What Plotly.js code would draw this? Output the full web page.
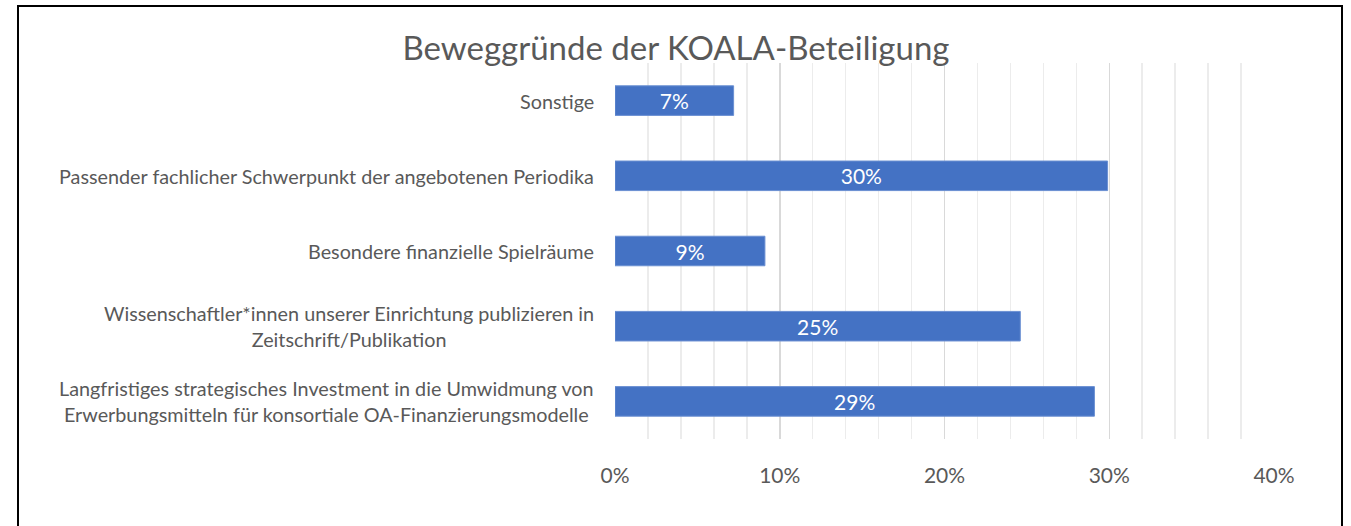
<!DOCTYPE html>
<html>
<head>
<meta charset="utf-8">
<script src="https://cdn.plot.ly/plotly-3.0.1.min.js"></script>
<style>
  html, body { margin: 0; padding: 0; overflow: hidden; background: #fff; }
  #chart { width: 1351px; height: 526px; }
  #frame { position: absolute; left: 17px; top: 5px; width: 1326px; height: 600px;
           border: 2px solid #000; pointer-events: none; box-sizing: border-box; }
</style>
</head>
<body>
<div id="chart"></div>
<div id="frame"></div>
<script>
const categories = [
  "Sonstige",
  "Passender fachlicher Schwerpunkt der angebotenen Periodika",
  "Besondere finanzielle Spielräume",
  "Wissenschaftler*innen unserer Einrichtung publizieren in<br>Zeitschrift/Publikation",
  "Langfristiges strategisches Investment in die Umwidmung von<br>Erwerbungsmitteln für konsortiale OA-Finanzierungsmodelle"
];
const shares = [0.072, 0.299, 0.091, 0.246, 0.291];
const tickValues = [0, 0.1, 0.2, 0.3, 0.4];
const tickLabels = ["0%", "10%", "20%", "30%", "40%"];
const chartTitle = "Beweggründe der KOALA-Beteiligung";

const FONT = "Lato, 'Open Sans', sans-serif";
const GREY = "#595959";

const trace = {
  type: "bar",
  orientation: "h",
  x: shares,
  y: categories,
  marker: { color: "#4472C4", line: { color: "#6a8fd2", width: 1 } },
  texttemplate: "%{x:.0%}",
  textposition: "inside",
  insidetextanchor: "middle",
  constraintext: "none",
  textfont: { color: "#ffffff", size: 21, family: FONT },
  hoverinfo: "skip"
};

const annotations = categories.map(c => ({
  x: 0, xref: "paper", xanchor: "right", xshift: -19,
  y: c, yref: "y", yanchor: "middle",
  text: c, showarrow: false, align: "center",
  font: { size: 19.8, color: GREY, family: FONT }
}));

const layout = {
  width: 1351, height: 526,
  margin: { l: 615, r: 77, t: 63, b: 87 },
  paper_bgcolor: "#ffffff", plot_bgcolor: "#ffffff",
  showlegend: false,
  bargap: 0.607,
  title: {
    text: chartTitle,
    x: 676 / 1351, xref: "container", xanchor: "center",
    y: 1 - 48 / 526, yref: "container", yanchor: "middle",
    font: { size: 33, color: GREY, family: FONT }
  },
  xaxis: {
    range: [0, 0.4],
    tickvals: tickValues,
    ticktext: tickLabels,
    showgrid: true, gridcolor: "#d9d9d9", gridwidth: 1.5,
    zeroline: false, showline: false,
    ticks: "outside", ticklen: 18, tickcolor: "rgba(0,0,0,0)",
    tickfont: { size: 21, color: GREY, family: FONT },
    minor: { dtick: 0.02, showgrid: true, gridcolor: "#ececec", gridwidth: 1.5 },
    fixedrange: true
  },
  yaxis: {
    type: "category",
    autorange: "reversed",
    showticklabels: false,
    showgrid: false, zeroline: false, showline: false,
    fixedrange: true
  },
  annotations: annotations
};

Plotly.newPlot("chart", [trace], layout, { displayModeBar: false, staticPlot: true });
</script>
</body>
</html>
